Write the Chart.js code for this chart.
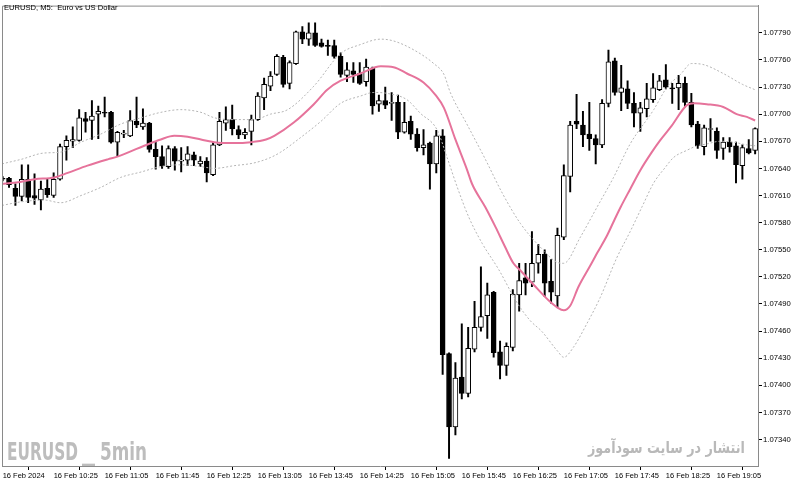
<!DOCTYPE html>
<html>
<head>
<meta charset="utf-8">
<script src="https://cdn.jsdelivr.net/npm/chart.js@4.4.1/dist/chart.umd.min.js"></script>
<style>
    body { margin: 0; background: #fff; }
    #wrap { position: relative; width: 800px; height: 483px; overflow: hidden; }
    #chart { position: absolute; left: 0; top: 0; }
    .txt { position: absolute; white-space: pre; }
    #title { left: 4px; top: 2px; font: 7.6px "Liberation Sans", sans-serif; line-height: 11px; color: #000; }
    .mark { font: bold 25px "DejaVu Sans", sans-serif; line-height: 25px; color: #bdbdbd; top: 439px; transform-origin: 0 0; }
    #fa { right: 55px; top: 439px; font: bold 16px "DejaVu Sans", sans-serif; line-height: 17px; color: #b9b9b9; direction: rtl; transform-origin: 100% 0; }
</style>
</head>
<body>
<div id="wrap">
    <canvas id="chart" width="800" height="483"></canvas>
    <div id="title" class="txt">EURUSD, M5:  Euro vs US Dollar</div>
    <div id="mark1" class="txt mark" style="left:7px">EURUSD</div>
    <div id="mark2" class="txt mark" style="left:82px">_</div>
    <div id="mark3" class="txt mark" style="left:100px">5min</div>
    <div id="fa" class="txt">انتشار در سایت سودآموز</div>
</div>
<script>
// candles, one per 5 minutes from 09:45 to 19:35
const openPrices = [1.07629,1.07629,1.07618,1.07609,1.07628,1.07610,1.07605,1.07618,1.07610,1.07628,
    1.07664,1.07670,1.07671,1.07695,1.07693,1.07700,1.07702,1.07702,1.07669,1.07678,
    1.07676,1.07692,1.07686,1.07690,1.07661,1.07653,1.07642,1.07662,1.07648,1.07649,
    1.07655,1.07645,1.07648,1.07633,1.07666,1.07690,1.07694,1.07683,1.07677,1.07681,
    1.07694,1.07718,1.07731,1.07744,1.07763,1.07734,1.07756,1.07791,1.07783,1.07790,
    1.07779,1.07776,1.07776,1.07764,1.07743,1.07748,1.07745,1.07736,1.07751,1.07711,
    1.07715,1.07712,1.07713,1.07680,1.07692,1.07678,1.07663,1.07668,1.07645,1.07676,
    1.07435,1.07354,1.07409,1.07391,1.07440,1.07464,1.07477,1.07503,1.07437,1.07422,
    1.07442,1.07500,1.07519,1.07514,1.07535,1.07545,1.07515,1.07499,1.07564,1.07631,
    1.07692,1.07688,1.07678,1.07673,1.07666,1.07712,1.07759,1.07724,1.07728,1.07712,
    1.07701,1.07706,1.07716,1.07727,1.07738,1.07729,1.07729,1.07734,1.07713,1.07689,
    1.07664,1.07683,1.07681,1.07662,1.07669,1.07665,1.07643,1.07662,1.07660];
const highPrices = [1.07631,1.07630,1.07623,1.07644,1.07644,1.07634,1.07626,1.07628,1.07635,1.07667,
    1.07676,1.07686,1.07705,1.07702,1.07715,1.07709,1.07719,1.07703,1.07681,1.07682,
    1.07704,1.07719,1.07706,1.07691,1.07669,1.07665,1.07665,1.07664,1.07663,1.07664,
    1.07658,1.07653,1.07652,1.07669,1.07702,1.07708,1.07710,1.07687,1.07684,1.07699,
    1.07724,1.07740,1.07747,1.07766,1.07765,1.07759,1.07792,1.07797,1.07801,1.07801,
    1.07783,1.07782,1.07782,1.07768,1.07757,1.07757,1.07757,1.07761,1.07752,1.07721,
    1.07730,1.07724,1.07721,1.07713,1.07698,1.07684,1.07683,1.07669,1.07682,1.07683,
    1.07436,1.07425,1.07468,1.07464,1.07493,1.07531,1.07513,1.07504,1.07449,1.07447,
    1.07506,1.07535,1.07535,1.07570,1.07556,1.07550,1.07539,1.07574,1.07644,1.07692,
    1.07722,1.07703,1.07713,1.07677,1.07716,1.07771,1.07762,1.07754,1.07737,1.07724,
    1.07713,1.07734,1.07745,1.07743,1.07755,1.07734,1.07743,1.07741,1.07723,1.07692,
    1.07688,1.07695,1.07685,1.07674,1.07674,1.07669,1.07666,1.07672,1.07685];
const lowPrices = [1.07626,1.07619,1.07599,1.07604,1.07602,1.07600,1.07594,1.07608,1.07608,1.07627,
    1.07649,1.07663,1.07670,1.07680,1.07672,1.07673,1.07697,1.07668,1.07653,1.07674,
    1.07675,1.07685,1.07683,1.07658,1.07639,1.07640,1.07640,1.07638,1.07636,1.07643,
    1.07643,1.07642,1.07625,1.07632,1.07665,1.07682,1.07677,1.07673,1.07673,1.07666,
    1.07693,1.07705,1.07726,1.07743,1.07730,1.07728,1.07755,1.07778,1.07776,1.07775,
    1.07774,1.07765,1.07762,1.07741,1.07736,1.07735,1.07733,1.07731,1.07700,1.07703,
    1.07706,1.07693,1.07673,1.07679,1.07672,1.07659,1.07655,1.07617,1.07635,1.07412,
    1.07319,1.07345,1.07385,1.07387,1.07437,1.07460,1.07452,1.07431,1.07407,1.07411,
    1.07438,1.07482,1.07500,1.07509,1.07524,1.07498,1.07491,1.07486,1.07561,1.07614,
    1.07684,1.07664,1.07660,1.07645,1.07663,1.07708,1.07721,1.07704,1.07706,1.07686,
    1.07681,1.07697,1.07713,1.07726,1.07728,1.07712,1.07705,1.07708,1.07686,1.07662,
    1.07655,1.07670,1.07651,1.07650,1.07658,1.07624,1.07628,1.07656,1.07656];
const closePrices = [1.07628,1.07622,1.07609,1.07628,1.07608,1.07607,1.07617,1.07611,1.07628,1.07664,
    1.07671,1.07672,1.07696,1.07692,1.07698,1.07703,1.07701,1.07669,1.07680,1.07679,
    1.07693,1.07688,1.07690,1.07661,1.07653,1.07643,1.07662,1.07648,1.07649,1.07656,
    1.07649,1.07648,1.07635,1.07666,1.07692,1.07694,1.07684,1.07677,1.07680,1.07694,
    1.07720,1.07733,1.07742,1.07764,1.07733,1.07757,1.07791,1.07783,1.07790,1.07776,
    1.07775,1.07775,1.07764,1.07744,1.07749,1.07744,1.07734,1.07752,1.07709,1.07715,
    1.07710,1.07713,1.07680,1.07691,1.07678,1.07663,1.07666,1.07645,1.07676,1.07434,
    1.07354,1.07408,1.07391,1.07441,1.07464,1.07476,1.07500,1.07436,1.07422,1.07443,
    1.07501,1.07516,1.07513,1.07535,1.07545,1.07513,1.07503,1.07566,1.07632,1.07688,
    1.07689,1.07677,1.07673,1.07666,1.07712,1.07758,1.07724,1.07729,1.07712,1.07701,
    1.07707,1.07717,1.07729,1.07737,1.07730,1.07728,1.07734,1.07713,1.07688,1.07665,
    1.07685,1.07684,1.07660,1.07669,1.07664,1.07644,1.07663,1.07657,1.07684];

// moving average (pink), read at bar positions
const maBars = [-0.1,1.8,5.0,8.1,10.2,13.3,16.5,18.0,19.8,22.2,24.8,26.9,29.0,31.1,33.2,36.3,38.9,41.3,42.6,45.7,
    48.8,50.9,53.0,56.1,59.3,61.3,63.4,66.0,67.9,69.2,71.0,72.8,73.6,75.7,77.3,78.8,80.1,81.2,83.3,85.6,
    87.0,88.0,89.0,90.3,92.2,93.2,94.8,95.8,96.9,98.4,100.0,101.8,103.1,104.9,107.3,108.4,110.4,113.0,115.1,116.7,118.0];
const maValues = [1.07623,1.07624,1.07628,1.07630,1.07635,1.07643,1.07650,1.07653,1.07658,1.07665,1.07672,1.07676,1.07675,1.07672,1.07669,1.07668,1.07669,1.07672,1.07676,1.07691,
    1.07711,1.07727,1.07737,1.07745,1.07753,1.07752,1.07745,1.07735,1.07721,1.07707,1.07672,1.07639,1.07623,1.07597,1.07575,1.07553,1.07535,1.07527,1.07511,1.07494,
    1.07486,1.07483,1.07488,1.07509,1.07533,1.07546,1.07566,1.07581,1.07597,1.07617,1.07638,1.07658,1.07671,1.07687,1.07710,1.07712,1.07711,1.07708,1.07700,1.07697,1.07693];

// envelope bands (grey dotted)
const upperBars = [-0.1,2.9,6.5,9.1,12.3,15.4,18.5,21.7,24.8,27.9,31.1,33.2,36.3,39.4,42.0,44.7,48.8,53.0,56.1,59.3,
    61.3,64.5,67.6,69.2,70.2,72.8,75.7,78.4,81.2,84.3,87.0,88.0,90.6,93.2,95.8,98.4,102.1,104.2,106.3,108.0,
    109.8,113.0,116.0,118.0];
const upperValues = [1.07645,1.07650,1.07657,1.07658,1.07669,1.07678,1.07689,1.07696,1.07702,1.07705,1.07702,1.07696,1.07694,1.07694,1.07700,1.07705,1.07731,1.07767,1.07777,1.07783,
    1.07781,1.07771,1.07756,1.07744,1.07724,1.07689,1.07650,1.07612,1.07579,1.07553,1.07536,1.07535,1.07564,1.07597,1.07630,1.07667,1.07705,1.07730,1.07744,1.07756,
    1.07755,1.07745,1.07733,1.07727];
const lowerBars = [-0.1,2.9,6.5,9.1,12.3,15.4,18.5,21.7,24.8,27.9,31.1,33.2,36.3,39.4,42.0,43.6,46.7,49.9,53.0,56.1,
    58.2,60.3,63.4,65.5,68.1,69.7,71.3,73.1,75.2,77.8,80.7,82.8,84.5,87.0,88.0,89.5,91.6,93.7,96.3,98.4,
    100.3,102.1,103.9,105.2,107.3,108.9,110.4,112.5,114.6,116.7,118.0];
const lowerValues = [1.07599,1.07603,1.07605,1.07602,1.07610,1.07619,1.07630,1.07636,1.07642,1.07644,1.07642,1.07640,1.07643,1.07646,1.07652,1.07658,1.07674,1.07692,1.07712,1.07720,
    1.07724,1.07723,1.07716,1.07701,1.07683,1.07652,1.07619,1.07586,1.07557,1.07528,1.07491,1.07471,1.07460,1.07438,1.07431,1.07442,1.07468,1.07497,1.07541,1.07570,
    1.07598,1.07624,1.07641,1.07652,1.07660,1.07665,1.07667,1.07670,1.07669,1.07666,1.07665];

// axis labels
const tickBars = [0,8,16,24,32,40,48,56,64,72,80,88,96,104,112];
const timeLabels = ['16 Feb 2024','16 Feb 10:25','16 Feb 11:05','16 Feb 11:45','16 Feb 12:25','16 Feb 13:05','16 Feb 13:45',
    '16 Feb 14:25','16 Feb 15:05','16 Feb 15:45','16 Feb 16:25','16 Feb 17:05','16 Feb 17:45','16 Feb 18:25','16 Feb 19:05'];
const priceTicks = [1.07340,1.07370,1.07400,1.07430,1.07460,1.07490,1.07520,1.07550,1.07580,1.07610,1.07640,1.07670,1.07700,1.07730,1.07760,1.07790];

const xFont = { family: '"Liberation Sans", sans-serif', size: 7.5 };
const yFont = { family: '"Liberation Sans", sans-serif', size: 7.7 };

const framePlugin = {
    id: 'frame',
    afterDraw(chart) {
        const { ctx, chartArea: a } = chart;
        ctx.save();
        ctx.strokeStyle = '#8a8a8a';
        ctx.lineWidth = 1;
        ctx.beginPath();
        ctx.moveTo(a.left + 0.5, a.bottom);
        ctx.lineTo(a.left + 0.5, a.top + 0.5);
        ctx.lineTo(a.right, a.top + 0.5);
        ctx.stroke();
        ctx.restore();
    }
};

const toPoints = (xs, ys) => xs.map((x, i) => ({ x: x, y: ys[i] }));

new Chart(document.getElementById('chart'), {
    type: 'bar',
    data: {
        datasets: [
            {
                type: 'line', label: 'MA', data: toPoints(maBars, maValues),
                borderColor: '#e6739b', borderWidth: 2, pointRadius: 0,
                cubicInterpolationMode: 'monotone', order: 0
            },
            {
                type: 'line', label: 'Upper', data: toPoints(upperBars, upperValues),
                borderColor: '#b5b5b5', borderWidth: 1, borderDash: [2, 2], pointRadius: 0,
                cubicInterpolationMode: 'monotone', order: 1
            },
            {
                type: 'line', label: 'Lower', data: toPoints(lowerBars, lowerValues),
                borderColor: '#b5b5b5', borderWidth: 1, borderDash: [2, 2], pointRadius: 0,
                cubicInterpolationMode: 'monotone', order: 1
            },
            {
                label: 'Bodies',
                data: openPrices.map((o, i) => ({ x: i, y: [o, closePrices[i]] })),
                backgroundColor: c => closePrices[c.dataIndex] >= openPrices[c.dataIndex] ? '#ffffff' : '#000000',
                borderColor: '#000', borderWidth: 1, borderSkipped: false,
                barThickness: 5, maxBarThickness: 5, minBarLength: 1, grouped: false, order: 2
            },
            {
                label: 'Wicks',
                data: lowPrices.map((l, i) => ({ x: i, y: [l, highPrices[i]] })),
                backgroundColor: '#000', borderWidth: 0,
                barThickness: 1.3, maxBarThickness: 1.3, minBarLength: 1, grouped: false, order: 3
            }
        ]
    },
    options: {
        responsive: false,
        animation: false,
        devicePixelRatio: 1,
        layout: { padding: { left: 2, top: 2, right: 0, bottom: 0 } },
        plugins: { legend: { display: false }, tooltip: { enabled: false }, title: { display: false } },
        scales: {
            x: {
                type: 'linear', min: -0.1, max: 118.45, offset: false,
                afterBuildTicks: s => { s.ticks = tickBars.map(v => ({ value: v })); },
                afterFit: s => { s.height = 17; },
                ticks: {
                    autoSkip: false, maxRotation: 0, minRotation: 0, align: 'start', padding: 1,
                    color: '#000', font: xFont,
                    callback: v => timeLabels[tickBars.indexOf(v)]
                },
                grid: { drawOnChartArea: false, tickLength: 4, color: '#000' },
                border: { color: '#8a8a8a' }
            },
            y: {
                position: 'right', min: 1.073107, max: 1.078201,
                afterBuildTicks: s => { s.ticks = priceTicks.map(v => ({ value: v })); },
                afterFit: s => { s.width = 42; },
                ticks: { color: '#000', font: yFont, padding: 1, callback: v => v.toFixed(5) },
                grid: { drawOnChartArea: false, tickLength: 4, color: '#000' },
                border: { color: '#8a8a8a' }
            }
        }
    },
    plugins: [framePlugin]
});

// squeeze watermark texts to their widths in the picture
function fitWidth(id, target) {
    const el = document.getElementById(id);
    const w = el.getBoundingClientRect().width;
    el.style.transform = 'scaleX(' + (target / w) + ')';
}
fitWidth('mark1', 71);
fitWidth('mark2', 13);
fitWidth('mark3', 47);
fitWidth('fa', 157);
</script>
</body>
</html>
